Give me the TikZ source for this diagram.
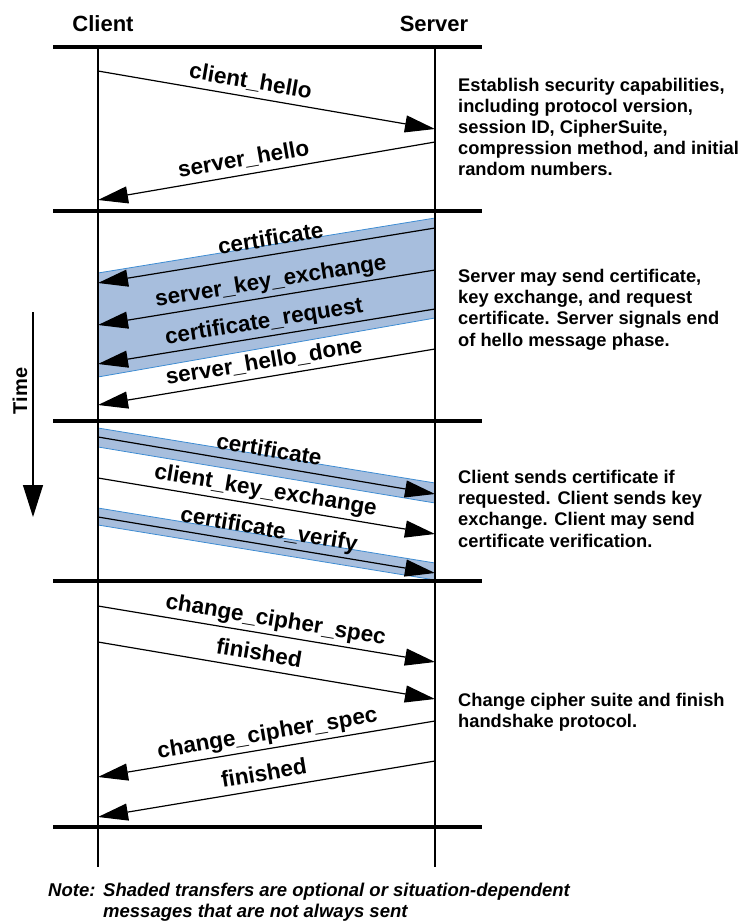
\documentclass[tikz,border=0pt]{standalone}
\usepackage{fontspec}
\setmainfont{Liberation Sans}
\usetikzlibrary{arrows.meta}
\definecolor{bandColor}{RGB}{167,190,221}
\definecolor{bandEdgeColor}{RGB}{62,140,210}

\begin{document}
\begin{tikzpicture}[x=1pt,y=-1pt]

            \tikzstyle{lifeLine} = [line width=1.4pt];
            \tikzstyle{phaseLine} = [line width=3.2pt];
            \tikzstyle{msgEdge} = [line width=1.2pt, -{Triangle[length=30pt,width=17pt]}];
            \tikzstyle{msgLabel} = [sloped, above=3pt, inner sep=0pt, text height=16pt, text depth=5pt, font=\fontsize{22.5}{26}\selectfont\bfseries];
            \tikzstyle{headLabel} = [font=\fontsize{22}{26}\selectfont\bfseries];
            \tikzstyle{descText} = [anchor=north west, align=left, inner sep=0pt, font=\fontsize{18.3}{21.2}\selectfont\bfseries];
            \tikzstyle{noteText} = [inner sep=0pt, font=\fontsize{18.5}{21}\selectfont\bfseries\itshape];
            \tikzstyle{optBand} = [fill=bandColor];
            \tikzstyle{bandEdge} = [bandEdgeColor, line width=0.8pt];

            \useasboundingbox (0,0) rectangle (738,924);

            % shaded (optional) transfers
            \fill[optBand] (435,218) -- (98,273) -- (98,377) -- (435,318) -- cycle;
            \draw[bandEdge] (435,218) -- (98,273);
            \draw[bandEdge] (98,377) -- (435,318);
            \fill[optBand] (98,428) -- (435,483) -- (435,503) -- (98,447) -- cycle;
            \draw[bandEdge] (98,428) -- (435,483);
            \draw[bandEdge] (98,447) -- (435,503);
            \fill[optBand] (98,508) -- (435,563) -- (435,580) -- (98,525) -- cycle;
            \draw[bandEdge] (98,508) -- (435,563);
            \draw[bandEdge] (98,525) -- (435,580);

            \node[headLabel, anchor=base] (client) at (103,31) {Client};
            \node[headLabel, anchor=base] (server) at (434,31) {Server};

            \coordinate (cTop) at (98,47);
            \coordinate (cBot) at (98,867);
            \coordinate (sTop) at (435,47);
            \coordinate (sBot) at (435,867);

            \draw[lifeLine] (cTop) -- (cBot);
            \draw[lifeLine] (sTop) -- (sBot);

            \draw[phaseLine] (53,47) -- (482,47);
            \draw[phaseLine] (53,211) -- (482,211);
            \draw[phaseLine] (53,421) -- (482,421);
            \draw[phaseLine] (53,581) -- (482,581);
            \draw[phaseLine] (53,827) -- (482,827);

            % phase 1
            \coordinate (c1) at (98,71);
            \coordinate (s1) at (435,129);
            \coordinate (s2) at (435,142);
            \coordinate (c2) at (98,200);
            \draw[msgEdge] (c1) -- node[msgLabel, pos=0.445] {client\_hello} (s1);
            \draw[msgEdge] (s2) -- node[msgLabel, pos=0.56] {server\_hello} (c2);

            % phase 2
            \coordinate (s3) at (435,228);
            \coordinate (c3) at (98,283);
            \coordinate (s4) at (435,270);
            \coordinate (c4) at (98,325);
            \coordinate (s5) at (435,309);
            \coordinate (c5) at (98,364);
            \coordinate (s6) at (435,349);
            \coordinate (c6) at (98,405);
            \draw[msgEdge] (s3) -- node[msgLabel, pos=0.48] {certificate} (c3);
            \draw[msgEdge] (s4) -- node[msgLabel, pos=0.48] {server\_key\_exchange} (c4);
            \draw[msgEdge] (s5) -- node[msgLabel, pos=0.5] {certificate\_request} (c5);
            \draw[msgEdge] (s6) -- node[msgLabel, pos=0.5] {server\_hello\_done} (c6);

            % phase 3
            \coordinate (c7) at (98,437);
            \coordinate (s7) at (435,494);
            \coordinate (c8) at (98,478);
            \coordinate (s8) at (435,534);
            \coordinate (c9) at (98,517);
            \coordinate (s9) at (435,573);
            \draw[msgEdge] (c7) -- node[msgLabel, pos=0.5] {certificate} (s7);
            \draw[msgEdge] (c8) -- node[msgLabel, pos=0.49] {client\_key\_exchange} (s8);
            \draw[msgEdge] (c9) -- node[msgLabel, pos=0.5] {certificate\_verify} (s9);

            % phase 4
            \coordinate (c10) at (98,606);
            \coordinate (s10) at (435,662);
            \coordinate (c11) at (98,642);
            \coordinate (s11) at (435,699);
            \coordinate (s12) at (435,721);
            \coordinate (c12) at (98,777);
            \coordinate (s13) at (435,761);
            \coordinate (c13) at (98,817);
            \draw[msgEdge] (c10) -- node[msgLabel, pos=0.52] {change\_cipher\_spec} (s10);
            \draw[msgEdge] (c11) -- node[msgLabel, pos=0.47] {finished} (s11);
            \draw[msgEdge] (s12) -- node[msgLabel, pos=0.49] {change\_cipher\_spec} (c12);
            \draw[msgEdge] (s13) -- node[msgLabel, pos=0.5] {finished} (c13);

            % time axis
            \coordinate (timeTop) at (33,312);
            \coordinate (timeEnd) at (33,517);
            \draw[line width=1.2pt, -{Triangle[length=32pt,width=20pt]}] (timeTop) -- (timeEnd);
            \node[rotate=90, font=\fontsize{20}{24}\selectfont\bfseries] (time) at (20,391) {Time};

            % phase descriptions
            \node[descText] (phaseOne) at (458,77.7) {Establish security capabilities,\\including protocol version,\\session ID, CipherSuite,\\compression method, and initial\\random numbers.};
            \node[descText] (phaseTwo) at (458,269) {Server may send certificate,\\key exchange, and request\\certificate. Server signals end\\of hello message phase.};
            \node[descText] (phaseThree) at (458,470) {Client sends certificate if\\requested. Client sends key\\exchange. Client may send\\certificate verification.};
            \node[descText] (phaseFour) at (458,693) {Change cipher suite and finish\\handshake protocol.};

            % note
            \node[noteText, anchor=base west] (noteHead) at (48,896) {Note:};
            \node[noteText, anchor=north west, align=left] (noteBody) at (103,882.5) {Shaded transfers are optional or situation-dependent\\messages that are not always sent};
          \end{tikzpicture}
\end{document}
